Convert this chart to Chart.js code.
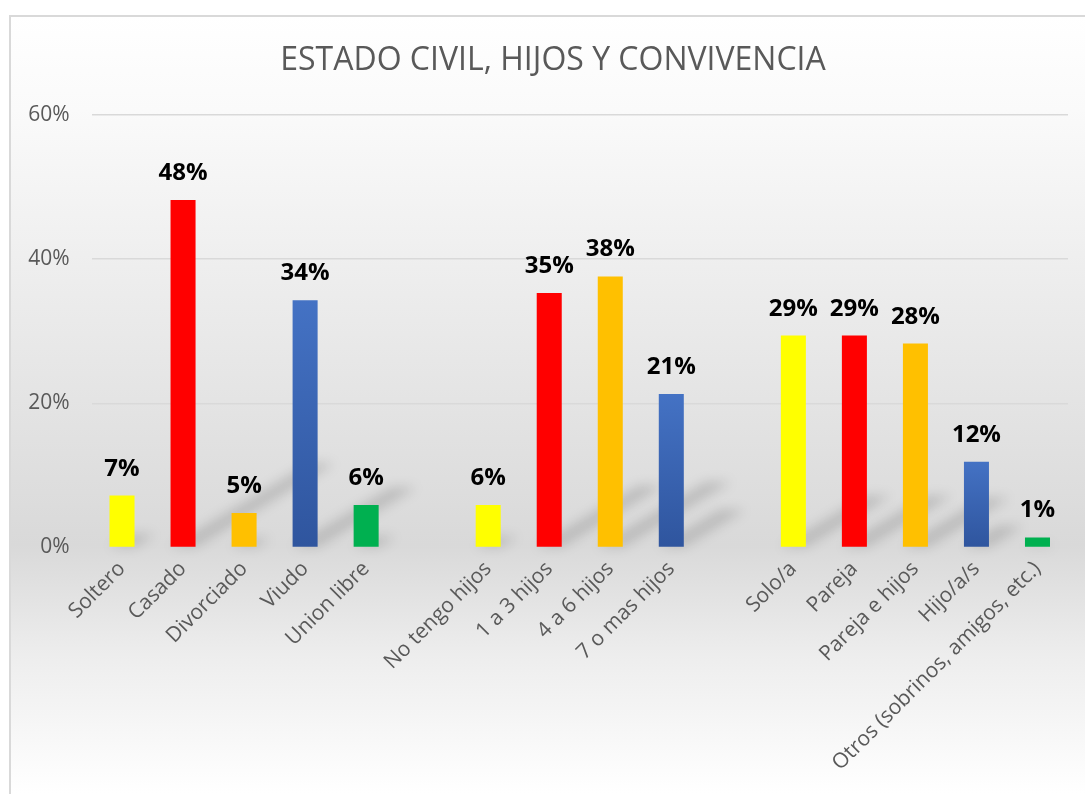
<!DOCTYPE html>
<html>
<head>
<meta charset="utf-8">
<script src="https://cdn.jsdelivr.net/npm/chart.js@4.4.1/dist/chart.umd.min.js"></script>
<style>
  html, body { margin: 0; padding: 0; background: #ffffff; }
  #wrap { width: 1085px; height: 794px; }
</style>
</head>
<body>
<div id="wrap"><canvas id="barChart" width="1085" height="794"></canvas></div>
<script>
// datos del gráfico (los huecos '' separan los tres grupos)
var categories = ['Soltero', 'Casado', 'Divorciado', 'Viudo', 'Union libre', '',
    'No tengo hijos', '1 a 3 hijos', '4 a 6 hijos', '7 o mas hijos', '',
    'Solo/a', 'Pareja', 'Pareja e hijos', 'Hijo/a/s', 'Otros (sobrinos, amigos, etc.)'];
var values = [7.2, 48.2, 4.8, 34.3, 5.9, null,
    5.9, 35.3, 37.6, 21.3, null,
    29.4, 29.4, 28.3, 11.9, 1.4];
var barKinds = ['amarillo', 'rojo', 'naranja', 'azul', 'verde', null,
    'amarillo', 'rojo', 'naranja', 'azul', null,
    'amarillo', 'rojo', 'naranja', 'azul', 'verde'];
var yTicks = [0, 20, 40, 60];
var chartTitle = 'ESTADO CIVIL, HIJOS Y CONVIVENCIA';

var kindColors = {
    amarillo: '#FFFF00',
    rojo: '#FF0000',
    naranja: '#FFC000',
    verde: '#00B050'
};

function barColor(ctx) {
    var kind = barKinds[ctx.dataIndex];
    if (kind !== 'azul') return kindColors[kind] || 'rgba(0,0,0,0)';
    var chart = ctx.chart;
    var y = chart.scales && chart.scales.y;
    var v = values[ctx.dataIndex];
    if (!y || !chart.chartArea || v == null) return '#3F66B5';
    var top = y.getPixelForValue(v);
    var bottom = y.getPixelForValue(0);
    var g = chart.ctx.createLinearGradient(0, top, 0, bottom);
    g.addColorStop(0, '#4472C4');
    g.addColorStop(1, '#2F559E');
    return g;
}

// fondo degradado, borde y título
var backgroundPlugin = {
    id: 'fondo',
    beforeDraw: function(chart) {
        var c = chart.ctx;
        var w = chart.width, h = chart.height;
        c.save();
        var g = c.createLinearGradient(0, 16, 0, h);
        g.addColorStop(0, '#FFFFFF');
        g.addColorStop(0.12, '#FAFAFA');
        g.addColorStop(0.68, '#D9D9D9');
        g.addColorStop(0.82, '#EDEDED');
        g.addColorStop(1, '#FFFFFF');
        c.fillStyle = g;
        c.fillRect(10, 16, w - 10, h - 16);
        c.strokeStyle = '#D9D9D9';
        c.lineWidth = 2;
        c.beginPath();
        c.moveTo(10, h + 2);
        c.lineTo(10, 16);
        c.lineTo(w + 2, 16);
        c.stroke();
        c.fillStyle = '#595959';
        c.font = '32px "Open Sans"';
        c.textAlign = 'center';
        c.textBaseline = 'middle';
        c.fillText(chartTitle, 553, 61);
        c.restore();
    }
};

// sombras en perspectiva detrás de las barras
var shadowPlugin = {
    id: 'sombras',
    beforeDatasetsDraw: function(chart) {
        var c = chart.ctx;
        var meta = chart.getDatasetMeta(0);
        c.save();
        c.filter = 'blur(6px)';
        c.fillStyle = 'rgba(0,0,0,0.15)';
        meta.data.forEach(function(bar, i) {
            if (values[i] == null) return;
            var hgt = bar.base - bar.y;
            var half = bar.width / 2;
            var dx = hgt * 0.4, dy = hgt * 0.24;
            c.beginPath();
            c.moveTo(bar.x - half, bar.base);
            c.lineTo(bar.x + half, bar.base);
            c.lineTo(bar.x + half + dx, bar.base - dy);
            c.lineTo(bar.x - half + dx, bar.base - dy);
            c.closePath();
            c.fill();
        });
        c.restore();
    }
};

// etiquetas de valores encima de las barras
var valueLabels = {
    id: 'etiquetas',
    afterDatasetsDraw: function(chart) {
        var c = chart.ctx;
        var meta = chart.getDatasetMeta(0);
        c.save();
        c.fillStyle = '#000000';
        c.font = 'bold 24px "Open Sans"';
        c.textAlign = 'center';
        c.textBaseline = 'alphabetic';
        meta.data.forEach(function(bar, i) {
            if (values[i] == null) return;
            c.fillText(Math.round(values[i]) + '%', bar.x, bar.y - 20);
        });
        c.restore();
    }
};

new Chart(document.querySelector('#barChart'), {
    type: 'bar',
    data: {
        labels: categories,
        datasets: [{
            label: 'Porcentaje',
            data: values,
            backgroundColor: barColor,
            borderWidth: 0,
            barPercentage: 0.41,
            categoryPercentage: 1
        }]
    },
    options: {
        responsive: false,
        animation: false,
        layout: { padding: { top: 115, right: 17, left: 0, bottom: 0 } },
        plugins: {
            legend: { display: false },
            tooltip: { enabled: false },
            title: { display: false }
        },
        scales: {
            x: {
                grid: { display: false, drawTicks: false },
                border: { display: false },
                ticks: {
                    autoSkip: false,
                    maxRotation: 45,
                    minRotation: 45,
                    padding: 9,
                    color: '#595959',
                    font: { family: 'Open Sans', size: 21 }
                },
                afterFit: function(scale) {
                    scale.height = 246.5;
                    scale.paddingLeft = 0;
                    scale.paddingRight = 0;
                }
            },
            y: {
                min: 0,
                max: 60,
                afterBuildTicks: function(scale) {
                    scale.ticks = yTicks.map(function(v) { return { value: v }; });
                },
                grid: { color: '#D9D9D9', lineWidth: 1.5, drawTicks: false },
                border: { display: false },
                ticks: {
                    padding: 22,
                    color: '#595959',
                    font: { family: 'Open Sans', size: 21 },
                    callback: function(v) { return v + '%'; }
                },
                afterFit: function(scale) {
                    scale.width = 91.5;
                    scale.paddingTop = 0;
                    scale.paddingBottom = 0;
                }
            }
        }
    },
    plugins: [backgroundPlugin, shadowPlugin, valueLabels]
});
</script>
</body>
</html>
